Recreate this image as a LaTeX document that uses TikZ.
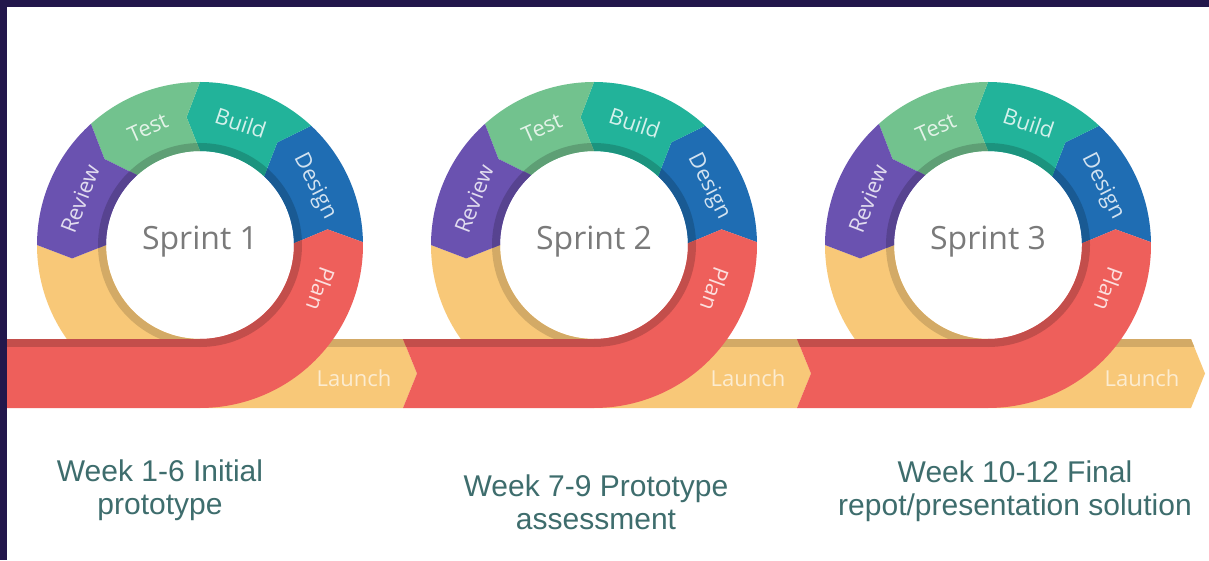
\documentclass[tikz,border=0pt]{standalone}
\usepackage{fontspec}
\setmainfont{Open Sans}
\newfontfamily\captionfont{Liberation Sans}

\definecolor{planred}{HTML}{EE5F5B}
\definecolor{designblue}{HTML}{1F6DB3}
\definecolor{buildteal}{HTML}{22B39A}
\definecolor{testgreen}{HTML}{72C28E}
\definecolor{reviewpurple}{HTML}{6A52B0}
\definecolor{launchyellow}{HTML}{F8C878}
\definecolor{framenavy}{HTML}{22174B}
\definecolor{captionteal}{HTML}{3E6D6D}

\newcommand{\rout}{163}
\newcommand{\rin}{94}
\newcommand{\rmid}{128.5}
\newcommand{\tipang}{6}

\tikzset{
	seglabel/.style={font=\fontsize{22}{25}\selectfont, inner sep=0pt},
	sprintlabel/.style={font=\fontsize{32}{38}\selectfont, text=black!52},
	caption/.style={font=\captionfont\fontsize{30}{33}\selectfont, text=captionteal, align=center, anchor=north, inner sep=0pt}
}

\begin{document}
\begin{tikzpicture}[x=1pt, y=1pt]
	\useasboundingbox (0,0) rectangle (1209,560);
	\fill[white] (0,0) rectangle (1209,560);

	\foreach \cx/\n/\xs in {200/1/-220, 594/2/-191, 988/3/-191} {
		\begin{scope}[shift={(\cx,315)}]
			% launch: round the left, out to the right
			\begin{scope}
				\clip (180:\rout) arc[start angle=180, end angle=270, radius=\rout] -- (203,-\rout) -- (217,-\rmid) -- (203,-\rin) -- (0,-\rin) arc[start angle=270, end angle=180, radius=\rin] -- (180+\tipang:\rmid) -- cycle;
				\fill[launchyellow] (-250,-200) rectangle (250,200);
				\fill[launchyellow!85!black] (0,0) circle[radius=\rin+8];
				\fill[launchyellow!85!black] (0,-\rin-8) rectangle (250,-\rin);
			\end{scope}
			\node[seglabel, text=white!65!launchyellow] (launch\n) at (154,-133) {Launch};

			\foreach \a/\b/\col/\txt in {1/47/designblue/Design, 47/90/buildteal/Build, 90/132/testgreen/Test, 132/180/reviewpurple/Review} {
				\begin{scope}
					\clip (\a:\rout) arc[start angle=\a, end angle=\b, radius=\rout] -- (\b+\tipang:\rmid) -- (\b:\rin) arc[start angle=\b, end angle=\a, radius=\rin] -- (\a+\tipang:\rmid) -- cycle;
					\fill[\col] (-200,-200) rectangle (200,200);
					\fill[\col!82!black] (0,0) circle[radius=\rin+8];
				\end{scope}
				\pgfmathsetmacro{\m}{(\a+\b)/2+3}
				\node[seglabel, text=white!80!\col, rotate=\m-90] (\txt\n) at (\m:\rmid) {\txt};
			}

			% plan comes in along the bottom and turns up
			\begin{scope}
				\clip (\xs,-\rout) -- (0,-\rout) arc[start angle=-90, end angle=1, radius=\rout] -- (1+\tipang:\rmid) -- (1:\rin) arc[start angle=1, end angle=-90, radius=\rin] -- (\xs,-\rin) -- (\xs+14,-\rmid) -- cycle;
				\fill[planred] (-250,-200) rectangle (250,200);
				\fill[planred!82!black] (0,0) circle[radius=\rin+8];
				\fill[planred!82!black] (-250,-\rin-8) rectangle (0,-\rin);
			\end{scope}
			\node[seglabel, text=white!80!planred, rotate=-110] (plan\n) at (-20:\rmid) {Plan};

			\node[sprintlabel] (sprint\n) at (0,3) {Sprint \n};
		\end{scope}
	}

	\node[caption] (week1) at (160,100) {Week 1-6 Initial\\prototype};
	\node[caption] (week2) at (596,85) {Week 7-9 Prototype\\assessment};
	\node[caption] (week3) at (1015,99) {Week 10-12 Final\\repot/presentation solution};

	\fill[framenavy] (0,0) rectangle (7,560);
	\fill[framenavy] (0,553) rectangle (1209,560);
\end{tikzpicture}
\end{document}
